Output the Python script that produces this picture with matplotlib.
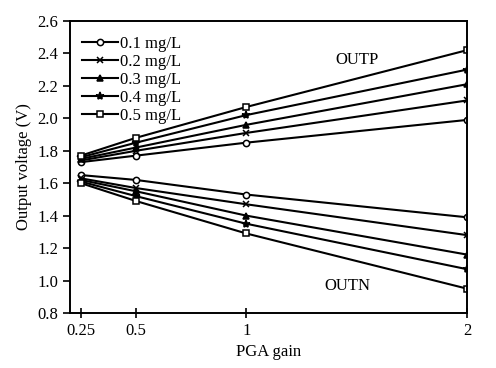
import matplotlib
matplotlib.use("Agg")
import matplotlib.pyplot as plt

plt.rcParams['font.family'] = ['Liberation Serif', 'DejaVu Serif']

gain = [0.25, 0.5, 1, 2]
labels = ['0.1 mg/L', '0.2 mg/L', '0.3 mg/L', '0.4 mg/L', '0.5 mg/L']
outp = [
    [1.73, 1.77, 1.85, 1.99],
    [1.74, 1.80, 1.91, 2.11],
    [1.75, 1.82, 1.96, 2.21],
    [1.76, 1.85, 2.02, 2.30],
    [1.77, 1.88, 2.07, 2.42],
]
outn = [
    [1.65, 1.62, 1.53, 1.39],
    [1.63, 1.57, 1.47, 1.28],
    [1.62, 1.55, 1.40, 1.16],
    [1.61, 1.52, 1.35, 1.07],
    [1.60, 1.49, 1.29, 0.95],
]
markers = ['o', 'x', '^', '*', 's']
fills = ['white', 'black', 'black', 'black', 'white']
sizes = [4.5, 5, 5, 6, 5]

fig = plt.figure(figsize=(4.96, 3.68), dpi=100)
ax = fig.add_axes([0.141, 0.1495, 0.8005, 0.7935])

for lab, p, n, m, fc, ms in zip(labels, outp, outn, markers, fills, sizes):
    ax.plot(gain, p, color='black', lw=1.5, marker=m, ms=ms, mfc=fc, mec='black', mew=1.1, label=lab)
    ax.plot(gain, n, color='black', lw=1.5, marker=m, ms=ms, mfc=fc, mec='black', mew=1.1)

ax.set_xlim(0.2, 2.0)
ax.set_ylim(0.8, 2.6)
ax.set_xticks(gain)
ax.set_xticklabels(['0.25', '0.5', '1', '2'])
ax.set_yticks([0.8, 1.0, 1.2, 1.4, 1.6, 1.8, 2.0, 2.2, 2.4, 2.6])
ax.tick_params(axis='both', labelsize=12, width=1.2, length=5)
ax.tick_params(axis='x', direction='inout', length=7)
ax.tick_params(axis='y', direction='out')
for s in ax.spines.values():
    s.set_linewidth(1.4)

ax.set_xlabel('PGA gain', fontsize=12)
ax.set_ylabel('Output voltage (V)', fontsize=12)

ax.text(1.5, 2.36, 'OUTP', fontsize=12, ha='center', va='center')
ax.text(1.46, 0.967, 'OUTN', fontsize=12, ha='center', va='center')

leg = ax.legend(loc='upper left', frameon=False, fontsize=12, handlelength=2.2,
                handletextpad=0.1, labelspacing=0.12, borderaxespad=0.3, bbox_to_anchor=(0.0, 0.99))

fig.savefig('out.png', dpi=100)
